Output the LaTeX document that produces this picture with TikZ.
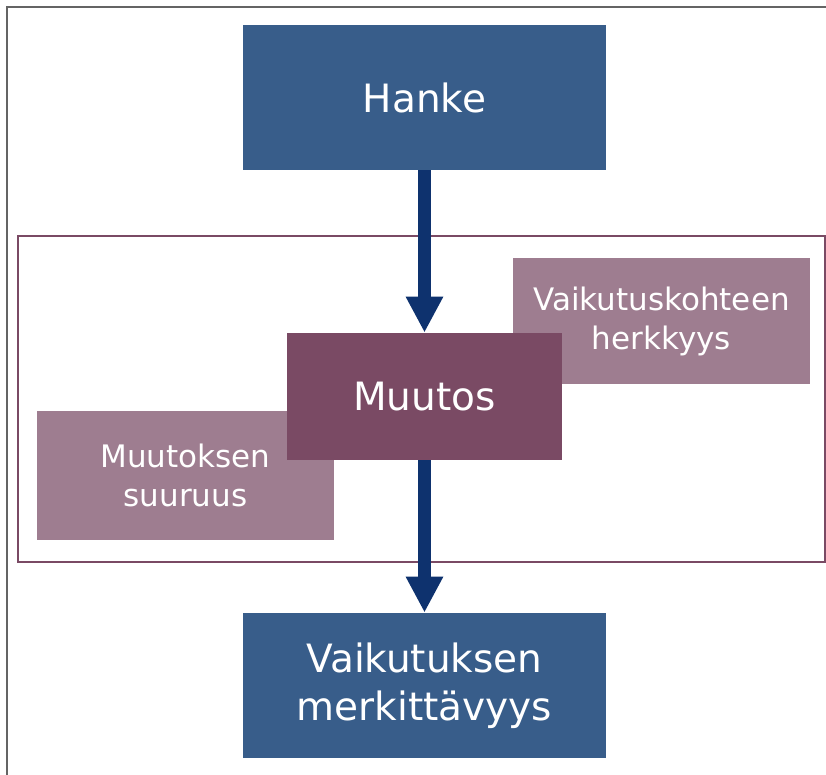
\documentclass[tikz,border=0pt]{standalone}
\usepackage{fontspec}
\setmainfont{DejaVu Sans}
\usetikzlibrary{arrows.meta}

\definecolor{hankeblue}{RGB}{56,93,138}
\definecolor{muutospurple}{RGB}{122,74,100}
\definecolor{lightpurple}{RGB}{158,125,144}
\definecolor{arrownavy}{RGB}{14,50,110}
\definecolor{framegray}{RGB}{100,100,100}

\tikzset{
  mainbox/.style={fill=hankeblue, text=white, align=center, font=\fontsize{19.5}{24}\selectfont,
    minimum width=181.5pt, minimum height=72.5pt, inner sep=0pt},
  sidebox/.style={fill=lightpurple, text=white, align=center, font=\fontsize{15.5}{19.5}\selectfont,
    minimum width=148.5pt, minimum height=63pt, inner sep=0pt},
  flow/.style={draw=arrownavy, line width=6.5pt, -{Triangle[width=17.5pt, length=18pt]}}
}

\begin{document}
\begin{tikzpicture}[x=0.5pt, y=-0.5pt]
\useasboundingbox (0,0) rectangle (826,775);
\clip (0,0) rectangle (826,775);
\fill[white] (0,0) rectangle (826,775);
% outer frame
\draw[framegray, line width=0.8pt] (7,800) -- (7,7) -- (840,7);
% inner frame
\draw[muutospurple, line width=0.8pt] (18,236) rectangle (825,562);
\node[mainbox] (hanke) at (424.5,97.5) {Hanke};
\node[sidebox] (herkkyys) at (661.5,321) {Vaikutuskohteen\\herkkyys};
\node[sidebox, minimum height=64.5pt] (suuruus) at (185.5,475.5) {Muutoksen\\suuruus};
\node[mainbox, fill=muutospurple, minimum width=137.5pt, minimum height=63.5pt] (muutos) at (424.5,396.5) {Muutos};
\node[mainbox] (merkitys) at (424.5,685.5) {Vaikutuksen\\merkittävyys};
\draw[flow] (hanke) -- (muutos);
\draw[flow] (muutos) -- (merkitys);
\end{tikzpicture}
\end{document}
